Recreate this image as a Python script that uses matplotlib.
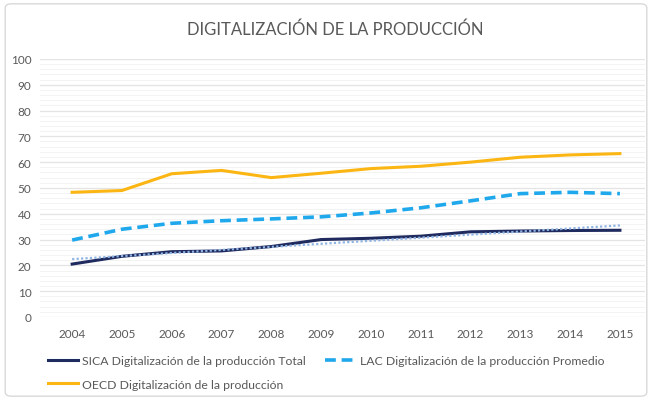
import numpy as np
import matplotlib
matplotlib.use("Agg")
import matplotlib.pyplot as plt
from matplotlib.patches import FancyBboxPatch
from matplotlib.ticker import MultipleLocator

plt.rcParams['font.family'] = ['Lato', 'DejaVu Sans']

years = [2004, 2005, 2006, 2007, 2008, 2009, 2010, 2011, 2012, 2013, 2014, 2015]
sica = [20.5, 23.5, 25.3, 25.6, 27.3, 30.0, 30.5, 31.3, 33.0, 33.3, 33.5, 33.6]
lac = [29.8, 34.0, 36.3, 37.3, 38.0, 38.8, 40.3, 42.3, 45.0, 47.8, 48.3, 47.8]
oecd = [48.3, 49.0, 55.5, 56.8, 54.0, 55.7, 57.5, 58.4, 60.0, 61.9, 62.8, 63.3]

labels = ["SICA Digitalización de la producción Total",
          "LAC Digitalización de la producción Promedio",
          "OECD Digitalización de la producción"]
title = "DIGITALIZACIÓN DE LA PRODUCCIÓN"

fig = plt.figure(figsize=(6.52, 4.02), dpi=100)
fig.patch.set_facecolor("white")

# outer chart border
border = FancyBboxPatch((0.008, 0.012), 0.984, 0.976, boxstyle="round,pad=0,rounding_size=0.01",
                        transform=fig.transFigure, facecolor="none", edgecolor="#d9d9d9", lw=1.0)
fig.patches.append(border)

ax = fig.add_axes([0.061, 0.209, 0.928, 0.642])

x = np.array(years)
# linear trend of the SICA series (Excel trendline)
coef = np.polyfit(x, sica, 1)
ax.plot(x, np.polyval(coef, x), color="#8fb4e3", lw=1.6, ls=(0, (1, 1)), zorder=4)

h_sica, = ax.plot(x, sica, color="#1f2a5e", lw=2.2, label=labels[0], zorder=3)
h_lac, = ax.plot(x, lac, color="#1fa8ec", lw=2.6, ls=(0, (3, 1.6)), label=labels[1], zorder=3)
h_oecd, = ax.plot(x, oecd, color="#fbb614", lw=2.2, label=labels[2], zorder=3)

ax.set_ylim(0, 100)
ax.set_xlim(2003.35, 2015.5)
ax.set_xticks(years)
ax.yaxis.set_major_locator(MultipleLocator(10))
ax.yaxis.set_minor_locator(MultipleLocator(2))
ax.grid(axis="y", which="major", color="#e4e4e4", lw=0.9)
ax.grid(axis="y", which="minor", color="#f3f3f3", lw=0.7)
ax.set_axisbelow(True)
for s in ax.spines.values():
    s.set_visible(False)
ax.tick_params(axis="both", which="both", length=0, colors="#595959", labelsize=8.5)
ax.tick_params(axis="x", pad=8)
ax.tick_params(axis="y", pad=6)

fig.text(0.514, 0.925, title, ha="center", va="center", fontsize=12, color="#595959")

# column-wise fill: SICA + OECD in first column, LAC in second
fig.legend([h_sica, h_oecd, h_lac], [labels[0], labels[2], labels[1]],
           loc="upper left", bbox_to_anchor=(0.066, 0.127), ncol=2, frameon=False,
           fontsize=8.8, labelcolor="#595959", handlelength=2.5, handletextpad=0.3,
           columnspacing=1.6, borderaxespad=0, labelspacing=1.05)

fig.savefig("out.png", dpi=100)
